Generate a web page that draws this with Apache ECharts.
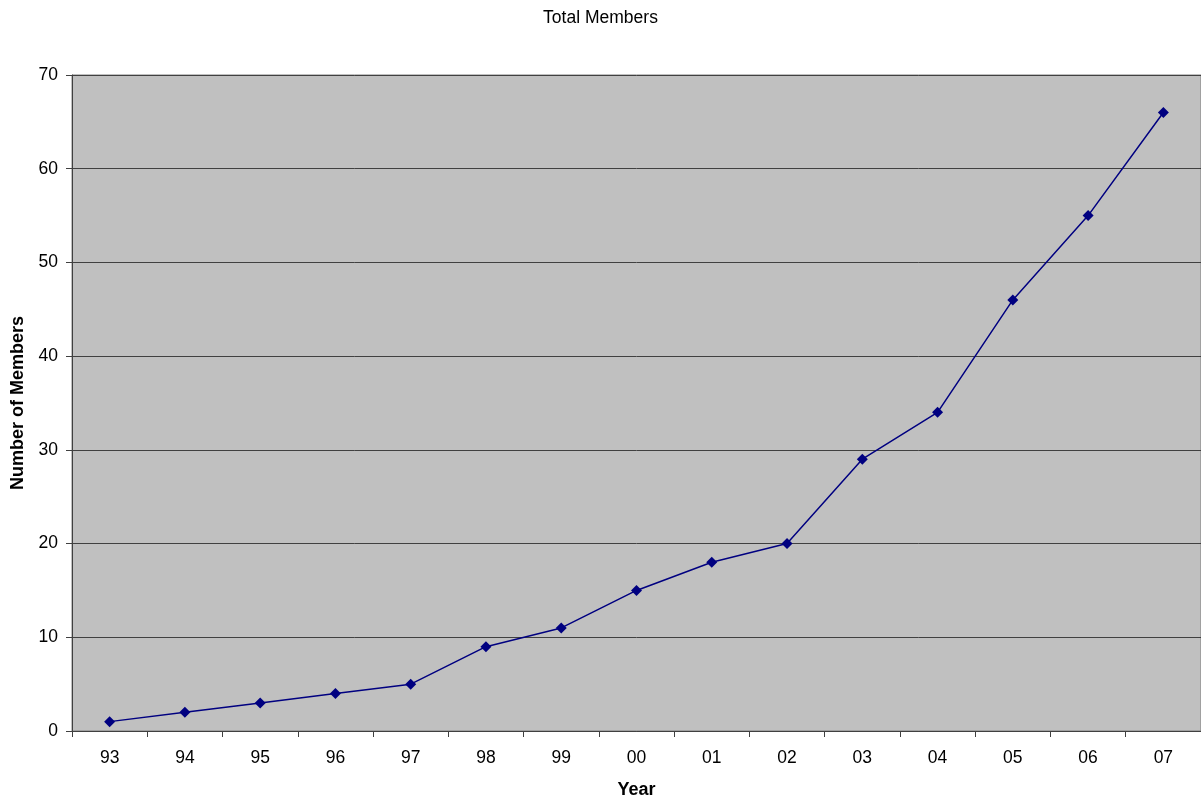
<!DOCTYPE html>
<html><head><meta charset="utf-8">
<script src="https://cdn.jsdelivr.net/npm/echarts@6/dist/echarts.min.js"></script>
<style>html,body{margin:0;padding:0;background:#fff}#c{width:1201px;height:802px}</style>
</head><body><div id="c"></div>
<script>
const years = ['93','94','95','96','97','98','99','00','01','02','03','04','05','06','07'];
const members = [1,2,3,4,5,9,11,15,18,20,29,34,46,55,66];
const chart = echarts.init(document.getElementById('c'));
const font = 'Liberation Sans, Arial, sans-serif';
chart.setOption({
  animation:false,
  title:{text:'Total Members',left:'center',top:4,textStyle:{fontFamily:font,fontSize:17.5,fontWeight:'normal',color:'#000'}},
  grid:{left:72,right:0,top:75,bottom:71,outerBoundsMode:'none',containLabel:false,show:true,backgroundColor:'#c0c0c0',borderColor:'#808080',borderWidth:1},
  xAxis:{type:'category',data:years,boundaryGap:true,
    name:'Year',nameLocation:'middle',nameGap:50,nameMoveOverlap:false,nameTextStyle:{fontFamily:font,fontSize:18,fontWeight:'bold',color:'#000'},
    axisLine:{lineStyle:{color:'#404040',width:1}},
    axisTick:{show:true,length:6,lineStyle:{color:'#404040'}},
    axisLabel:{fontFamily:font,fontSize:17.5,color:'#000',margin:18}},
  yAxis:{type:'value',min:0,max:70,interval:10,
    name:'Number of Members',nameLocation:'middle',nameGap:45,nameMoveOverlap:false,nameTextStyle:{fontFamily:font,fontSize:18,fontWeight:'bold',color:'#000'},
    axisLine:{show:true,lineStyle:{color:'#404040',width:1}},
    axisTick:{show:true,length:6,lineStyle:{color:'#404040'}},
    axisLabel:{fontFamily:font,fontSize:17.5,color:'#000',margin:14},
    splitLine:{show:true,lineStyle:{color:'#404040',width:1}}},
  series:[{type:'line',data:members,symbol:'diamond',symbolSize:11,
    lineStyle:{color:'#000080',width:1.5},itemStyle:{color:'#000080'}}]
});
</script></body></html>
